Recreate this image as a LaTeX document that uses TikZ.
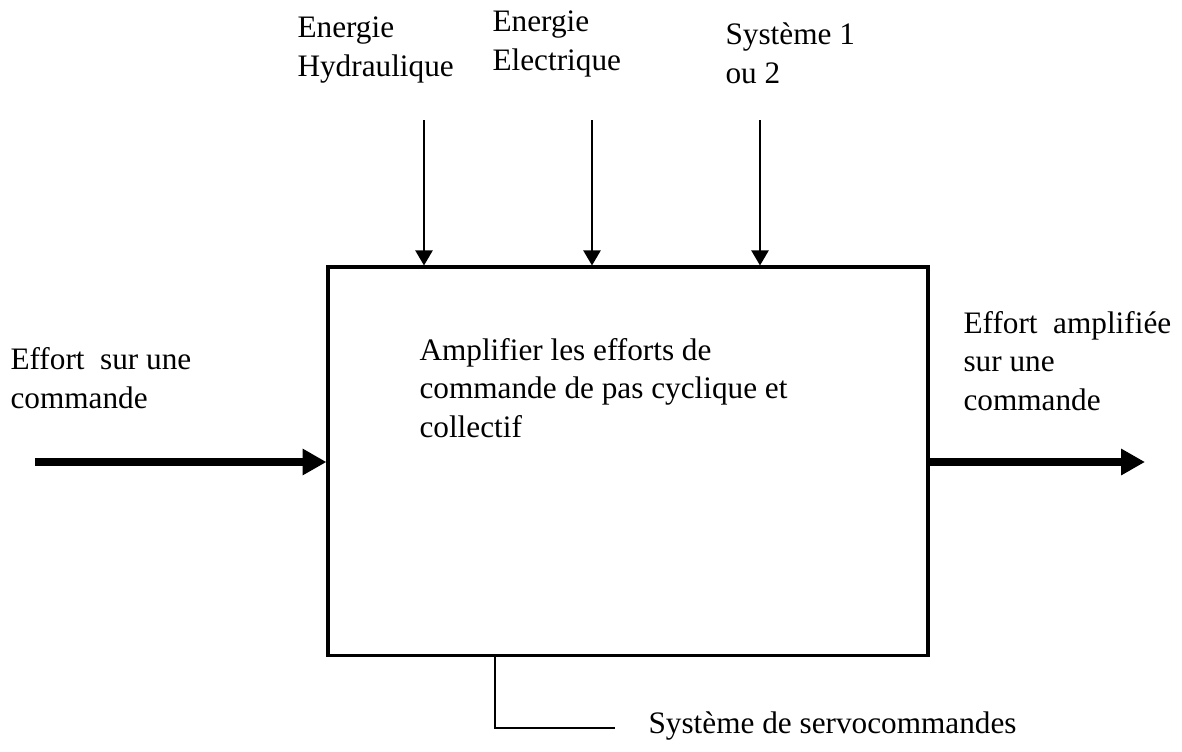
\documentclass[tikz,border=0pt]{standalone}
\usepackage{fontspec}
\setmainfont{Liberation Serif}
\usepackage{tikz}
\usetikzlibrary{arrows.meta}

\begin{document}
\begin{tikzpicture}[
		x=0.36pt, y=-0.36pt,
		lbl/.style={anchor=base west, inner sep=0pt, align=left, font=\fontsize{11.25}{13.7}\selectfont},
		arrin/.style={line width=0.55pt, -{Triangle[length=5.4pt, width=6.2pt]}},
		arrthick/.style={line width=2.9pt, -{Triangle[length=8.6pt, width=9pt]}}
	]
	\useasboundingbox (0,0) rectangle (1182,751);

	% main box (text anchored at its last baseline)
	\node[draw, line width=1.1pt, minimum width=216pt, minimum height=139.7pt, inner sep=0pt] (nodeBox) at (628,461) {};
	\node[lbl] (nodeFn) at (419,437) {Amplifier les efforts de\\commande de pas cyclique et\\collectif};

	% inputs from above
	\node[lbl] (nodeHyd) at (297,76) {Energie\\Hydraulique};
	\node[lbl] (nodeElec) at (492,70) {Energie\\Electrique};
	\node[lbl] (nodeSys) at (725,83) {Système 1\\ou 2};
	\coordinate (nodeA) at (424,120);
	\coordinate (nodeB) at (592,120);
	\coordinate (nodeC) at (760,120);
	\draw[arrin] (nodeA) -- (nodeA |- nodeBox.north);
	\draw[arrin] (nodeB) -- (nodeB |- nodeBox.north);
	\draw[arrin] (nodeC) -- (nodeC |- nodeBox.north);

	% input and output
	\node[lbl] (nodeIn) at (10,408) {Effort~ sur une\\commande};
	\node[lbl] (nodeOut) at (963,410) {Effort~ amplifiée\\sur une\\commande};
	\coordinate (nodeL) at (35,462);
	\coordinate (nodeR) at (1145,462);
	\draw[arrthick] (nodeL) -- (nodeL -| nodeBox.west);
	\draw[arrthick] (nodeBox.east |- nodeR) -- (nodeR);

	% support
	\node[lbl] (nodeServo) at (648,733) {Système de servocommandes};
	\coordinate (nodeS) at (495,728);
	\coordinate (nodeT) at (615,728);
	\draw[line width=0.5pt] (nodeS |- nodeBox.south) -- (nodeS) -- (nodeT);
\end{tikzpicture}
\end{document}
